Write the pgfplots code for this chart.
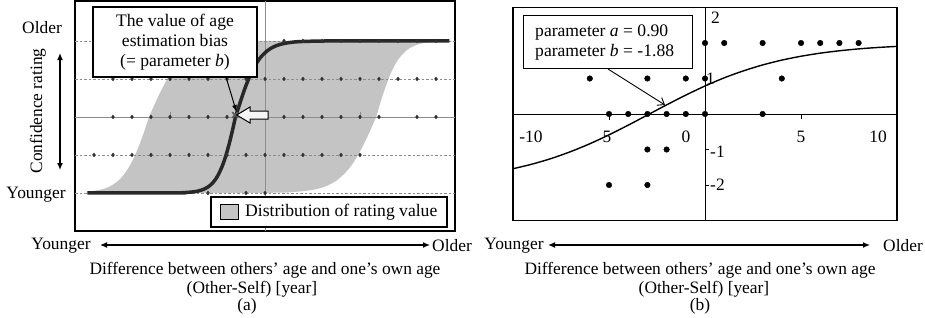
\documentclass[border=0pt]{standalone}
\usepackage{fontspec}
\setmainfont{Liberation Serif}
\usepackage{pgfplots}
\pgfplotsset{compat=1.18}
\usetikzlibrary{arrows.meta}
\definecolor{fillgray}{RGB}{196,196,196}
\definecolor{curvegray}{RGB}{40,40,40}
\definecolor{dotgray}{RGB}{50,50,50}
\definecolor{gridgray}{RGB}{140,140,140}
\begin{document}
\begin{tikzpicture}[t/.style={font=\fontsize{17.4}{20}\selectfont, inner sep=0pt},
                    tb/.style={font=\fontsize{17.6}{20}\selectfont, inner sep=0pt}]
\useasboundingbox (0pt,0pt) rectangle (925pt,-317pt);
% ---------------- panel (a) ----------------
\begin{axis}[at={(75pt,-1pt)}, anchor=north west, scale only axis,
  width=380pt, height=230pt, xmin=-10, xmax=10, ymin=-3, ymax=3.05,
  xtick=\empty, ytick=\empty, axis line style={line width=1.6pt, black}, clip=true]
\addplot[fill=fillgray, draw=none, smooth] coordinates {
 (-9.35,-1.97) (-8.5,-1.894) (-8,-1.78) (-7.5,-1.564) (-7,-1.177) (-6.6,-0.717) (-6.35,-0.371)
 (-6.1,0) (-5.85,0.286) (-5.6,0.559) (-5.1,1.037) (-4.6,1.395) (-4.1,1.636) (-3.5,1.808)
 (-3,1.89) (-2.5,1.937) (-2,1.964) (-1,1.989) (0,2) (9.7,2)
 (9,1.981) (8.5,1.956) (8,1.899) (7.5,1.772) (7,1.504) (6.6,1.127) (6.2,0.578) (6.0,0.254)
 (5.85,0) (5.6,-0.288) (5.4,-0.51) (4.9,-1.003) (4.4,-1.373) (3.8,-1.66) (3.2,-1.823)
 (2.5,-1.92) (1.5,-1.974) (0,-1.995) (-9.35,-2)};
\draw[gridgray, dash pattern=on 2.5pt off 2pt, line width=0.6pt] (axis cs:-10,2) -- (axis cs:10,2);
\draw[gridgray, dash pattern=on 2.5pt off 2pt, line width=0.6pt] (axis cs:-10,1) -- (axis cs:10,1);
\draw[gridgray, dash pattern=on 2.5pt off 2pt, line width=0.6pt] (axis cs:-10,-1) -- (axis cs:10,-1);
\draw[gridgray, dash pattern=on 2.5pt off 2pt, line width=0.6pt] (axis cs:-10,-2) -- (axis cs:10,-2);
\draw[gridgray, line width=0.7pt] (axis cs:-10,0) -- (axis cs:10,0);
\draw[gridgray, line width=0.7pt] (axis cs:0,-3) -- (axis cs:0,3.05);
\draw[gridgray, line width=0.7pt] (axis cs:-5,0) -- ++(0pt,5pt);
\draw[gridgray, line width=0.7pt] (axis cs:5,0) -- ++(0pt,5pt);
\addplot[only marks, mark=diamond*, mark size=1.9pt, color=dotgray] coordinates {
 (1,2) (2,2) (3,2) (4,2) (5,2) (6,2) (7,2) (8,2) (9,2)
 (-8,1) (-7,1) (-6,1) (-5,1) (-4,1) (-3,1) (-2,1) (-1,1) (0,1) (1,1) (2,1) (3,1) (4,1) (5,1) (6,1) (7,1) (8,1) (9,1)
 (-8,0) (-7,0) (-6,0) (-5,0) (-4,0) (-3,0) (-2,0) (-1,0) (0,0) (1,0) (2,0) (3,0) (4,0) (5,0) (6,0) (8,0) (9,0)
 (-9,-1) (-8,-1) (-7,-1) (-6,-1) (-5,-1) (-4,-1) (-3,-1) (-2,-1) (-1,-1) (0,-1) (1,-1) (2,-1) (3,-1) (4,-1) (5,-1)
 (-3,-2) (-1,-2) (0,-2)};
\addplot[curvegray, line width=3.5pt, smooth] coordinates {
 (-9.35,-2) (-4.5,-1.995) (-4.2,-1.988) (-3.8,-1.972) (-3.5,-1.946) (-3.2,-1.897) (-3,-1.842)
 (-2.75,-1.733) (-2.5,-1.56) (-2.25,-1.293) (-2.1,-1.081) (-2,-0.916) (-1.9,-0.734) (-1.8,-0.536)
 (-1.7,-0.327) (-1.55,0) (-1.4,0.238) (-1.15,0.619) (-1,0.827) (-0.8,1.074) (-0.6,1.28) (-0.4,1.452)
 (-0.2,1.587) (0.1,1.733) (0.3,1.803) (0.6,1.876) (1,1.933) (1.5,1.97) (2,1.986) (3,1.997) (4,2) (9.7,2)};
\addplot[only marks, mark=x, mark size=4pt, line width=1.6pt, color=black!65] coordinates {(-1.58,0.05)};
\end{axis}
% annotations (a)
\node[tb, draw, line width=1.3pt, fill=white, minimum width=164pt, minimum height=70pt, align=center]
  at (175pt,-42pt) {The value of age\\estimation bias\\(= parameter \textit{b})};
\draw[line width=1pt, -{Latex[length=7pt,width=5pt]}] (226pt,-77pt) -- (236.5pt,-112pt);
\draw[line width=1pt, fill=gray!8] (236.7pt,-115pt) -- (250pt,-107pt) -- (250pt,-111pt) -- (268pt,-111pt)
  -- (268pt,-119pt) -- (250pt,-119pt) -- (250pt,-123pt) -- cycle;
\draw[line width=1.3pt, fill=white] (211pt,-197pt) rectangle (447pt,-227pt);
\draw[line width=1pt, fill=fillgray] (220pt,-204pt) rectangle (238pt,-219pt);
\node[tb, anchor=west] at (245pt,-212pt) {Distribution of rating value};
\node[t] at (42pt,-28pt) {Older};
\node[t] at (36pt,-195pt) {Younger};
\node[t, rotate=90] at (38pt,-111pt) {Confidence rating};
\draw[line width=1.3pt, {Latex[length=7pt,width=6pt]}-{Latex[length=7pt,width=6pt]}] (60pt,-53pt) -- (60pt,-170pt);
\node[t] at (61pt,-246pt) {Younger};
\draw[line width=1.3pt, {Latex[length=7pt,width=6pt]}-{Latex[length=7pt,width=6pt]}] (100pt,-245pt) -- (430pt,-245pt);
\node[t] at (452pt,-246pt) {Older};
\node[t] at (265pt,-270pt) {Difference between others’ age and one’s own age};
\node[t] at (252pt,-289pt) {(Other-Self) [year]};
\node[t] at (247pt,-306pt) {(a)};
% ---------------- panel (b) ----------------
\begin{axis}[at={(513pt,-7.5pt)}, anchor=north west, scale only axis,
  width=384pt, height=213pt, xmin=-10, xmax=10, ymin=-3, ymax=3,
  xtick=\empty, ytick=\empty, axis line style={line width=1.2pt, black}, clip=false]
\draw[line width=1pt] (axis cs:-10,0) -- (axis cs:10,0);
\draw[line width=1pt] (axis cs:0,-3) -- (axis cs:0,3);
\draw[line width=0.8pt] (axis cs:-5,0) -- ++(0pt,-6pt);
\draw[line width=0.8pt] (axis cs:5,0) -- ++(0pt,-5pt);
\draw[line width=0.8pt] (axis cs:0,-1) -- ++(4pt,0pt);
\draw[line width=0.8pt] (axis cs:0,-2) -- ++(4pt,0pt);
\addplot[black, line width=1.4pt, smooth] coordinates {
 (-10,-1.542) (-9,-1.411) (-8,-1.252) (-7,-1.060) (-6,-0.838) (-5,-0.587) (-4,-0.314) (-3,-0.029)
 (-2,0.257) (-1,0.533) (0,0.789) (1,1.019) (2,1.215) (3,1.382) (4,1.518) (5,1.627) (6,1.714)
 (7,1.781) (8,1.834) (9,1.874) (10,1.905)};
\addplot[only marks, mark=*, mark size=2.8pt, black] coordinates {
 (0,2) (1,2) (3,2) (5,2) (6,2) (7,2) (8,2)
 (-6,1) (-3,1) (-1,1) (0,1) (4,1)
 (-5,0) (-4,0) (-3,0) (-2,0) (-1,0) (0,0) (3,0)
 (-3,-1) (-2,-1)
 (-5,-2) (-3,-2)};
\end{axis}
% annotations (b)
\draw[line width=1pt, fill=white] (523pt,-15pt) rectangle (692pt,-68pt);
\node[tb, anchor=west] at (535pt,-33pt) {parameter \textit{a} = 0.90};
\node[tb, anchor=west] at (535pt,-52pt) {parameter \textit{b} = -1.88};
\draw[line width=0.9pt, -{Straight Barb[length=6pt,width=9pt]}] (608pt,-69pt) -- (665pt,-105pt);
\node[t] at (531pt,-137pt) {-10};
\node[t] at (607pt,-137pt) {5};
\node[t] at (686pt,-137pt) {0};
\node[t] at (801pt,-137pt) {5};
\node[t] at (878pt,-137pt) {10};
\node[t, anchor=west] at (711pt,-18pt) {2};
\node[t, anchor=west] at (706pt,-79pt) {1};
\node[t, anchor=west] at (710pt,-152pt) {-1};
\node[t, anchor=west] at (710pt,-185pt) {-2};
\node[t] at (514pt,-246pt) {Younger};
\draw[line width=1.3pt, {Latex[length=7pt,width=6pt]}-{Latex[length=7pt,width=6pt]}] (548pt,-245pt) -- (870pt,-245pt);
\node[t, anchor=west] at (883pt,-246pt) {Older};
\node[t] at (700pt,-270pt) {Difference between others’ age and one’s own age};
\node[t] at (704pt,-289pt) {(Other-Self) [year]};
\node[t] at (700pt,-306pt) {(b)};
\end{tikzpicture}
\end{document}
